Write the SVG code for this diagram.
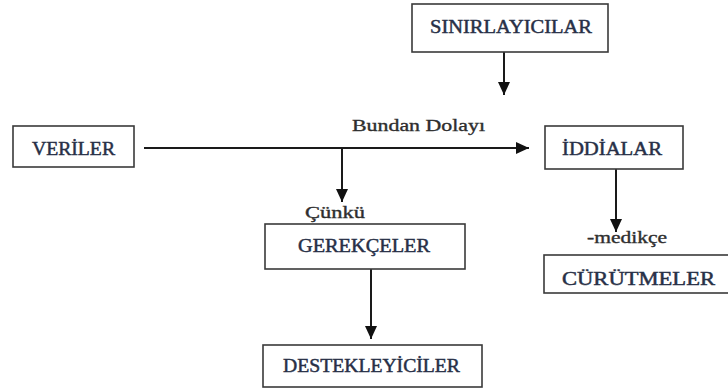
<svg xmlns="http://www.w3.org/2000/svg" width="728" height="391" viewBox="0 0 728 391">
<style>
.box{fill:#fff;stroke:#3a3a3a;stroke-width:1.6}
.lbl{font-family:"Liberation Serif","DejaVu Serif",serif;font-size:18px;fill:#283047;stroke:#283047;stroke-width:0.45}
.cap{font-family:"Liberation Serif","DejaVu Serif",serif;font-size:16.5px;fill:#2e2e2e;stroke:#2e2e2e;stroke-width:0.35}
.conn{stroke:#1a1a1a;stroke-width:2;fill:none}
</style>
<defs>
<marker id="ah" markerUnits="userSpaceOnUse" markerWidth="14" markerHeight="14" viewBox="0 0 14 14" refX="13" refY="7" orient="auto">
<path d="M0,1 L13,7 L0,13 Z" fill="#111"/>
</marker>
</defs>
<rect x="0" y="0" width="728" height="391" fill="#fff"/>
<g id="connectors">
<line class="conn" x1="144" y1="148" x2="529" y2="148" marker-end="url(#ah)"/>
<line class="conn" x1="342" y1="148" x2="342" y2="202" marker-end="url(#ah)"/>
<line class="conn" x1="504" y1="52" x2="504" y2="95" marker-end="url(#ah)"/>
<line class="conn" x1="616" y1="169" x2="616" y2="232" marker-end="url(#ah)"/>
<line class="conn" x1="371" y1="269" x2="371" y2="339" marker-end="url(#ah)"/>
<text class="cap" x="352" y="131" textLength="133" lengthAdjust="spacingAndGlyphs">Bundan Dolayı</text>
<text class="cap" x="305" y="218" textLength="60" lengthAdjust="spacingAndGlyphs">Çünkü</text>
<text class="cap" x="587" y="243" textLength="80" lengthAdjust="spacingAndGlyphs">-medikçe</text>
</g>
<g id="sinirlayicilar">
<rect class="box" x="412" y="4" width="196" height="48"/>
<text class="lbl" x="430" y="33" textLength="162" lengthAdjust="spacingAndGlyphs">SINIRLAYICILAR</text>
</g>
<g id="veriler">
<rect class="box" x="13" y="126" width="121" height="41"/>
<text class="lbl" x="32" y="155" textLength="83" lengthAdjust="spacingAndGlyphs">VERİLER</text>
</g>
<g id="iddialar">
<rect class="box" x="545" y="126" width="138" height="43"/>
<text class="lbl" x="562" y="155" textLength="100" lengthAdjust="spacingAndGlyphs">İDDİALAR</text>
</g>
<g id="gerekceler">
<rect class="box" x="265" y="224" width="200" height="45"/>
<text class="lbl" x="298" y="252" textLength="132" lengthAdjust="spacingAndGlyphs">GEREKÇELER</text>
</g>
<g id="destekleyiciler">
<rect class="box" x="263" y="345" width="219" height="42"/>
<text class="lbl" x="283" y="372" textLength="177" lengthAdjust="spacingAndGlyphs">DESTEKLEYİCİLER</text>
</g>
<g id="curutmeler">
<rect class="box" x="544" y="255" width="190" height="38"/>
<text class="lbl" x="562" y="285" textLength="153" lengthAdjust="spacingAndGlyphs">CÜRÜTMELER</text>
</g>
</svg>
